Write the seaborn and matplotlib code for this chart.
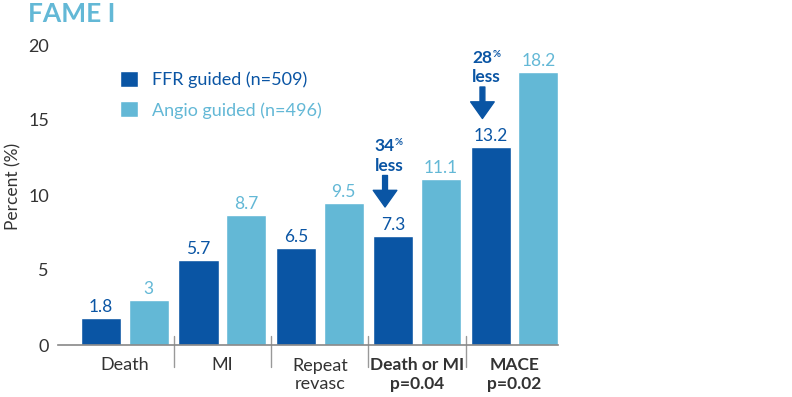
import matplotlib
matplotlib.use('Agg')
import matplotlib.pyplot as plt
import matplotlib.transforms as mtransforms
import pandas as pd
import seaborn as sns

categories = ['Death', 'MI', 'Repeat\nrevasc', 'Death or MI\np=0.04', 'MACE\np=0.02']
ffr = [1.8, 5.7, 6.5, 7.3, 13.2]
angio = [3.0, 8.7, 9.5, 11.1, 18.2]
groups = ['FFR guided (n=509)', 'Angio guided (n=496)']
yticks = [0, 5, 10, 15, 20]
# reductions shown with arrows: (category index, label)
reductions = [(3, '34'), (4, '28')]

DARK = '#0a55a4'
LIGHT = '#63b8d6'
TXT = '#333333'
W = 'normal'

df = pd.DataFrame({
    'outcome': categories * 2,
    'pct': ffr + angio,
    'group': [groups[0]] * len(categories) + [groups[1]] * len(categories),
})

sns.set_theme(style='white')
plt.rcParams['font.family'] = ['Lato', 'DejaVu Sans']

fig = plt.figure(figsize=(7.92, 3.97), dpi=100)
ax = fig.add_axes([58 / 792, 52 / 397, 500 / 792, 300 / 397])

sns.barplot(data=df, x='outcome', y='pct', hue='group', palette=[DARK, LIGHT],
            width=0.98, gap=0.16, saturation=1, ax=ax)

ax.set_xlim(-0.688, 4.446)
ax.set_ylim(0, 20)
ax.set_yticks(yticks)
ax.set_xlabel('')
ax.set_ylabel('Percent (%)', fontsize=12.5, color=TXT, fontweight=W)
ax.yaxis.set_label_coords(-0.074, 0.527)

for s in ['top', 'right', 'left']:
    ax.spines[s].set_visible(False)
ax.spines['bottom'].set_color('#888888')
ax.spines['bottom'].set_linewidth(1.2)

ax.tick_params(axis='y', direction='in', length=10, width=1, color='#999999',
               pad=6.5, labelsize=13, labelcolor=TXT)
ax.tick_params(axis='x', length=0, pad=9, labelsize=13, labelcolor=TXT)
for lab in ax.get_yticklabels():
    lab.set_fontweight(W)
for i, lab in enumerate(ax.get_xticklabels()):
    if i >= 3:
        lab.set_fontweight('bold')
        lab.set_fontsize(12.5)
    else:
        lab.set_fontweight(W)
    lab.set_linespacing(1.2)

# value labels
for cont, vals, col in zip(ax.containers, [ffr, angio], [DARK, LIGHT]):
    ax.bar_label(cont, labels=[f'{v:g}' for v in vals], padding=2, color=col,
                 fontsize=12.5, fontweight=W)

# separators between categories
trans = mtransforms.blended_transform_factory(ax.transData, ax.transAxes)
for i in range(len(categories) - 1):
    ax.plot([i + 0.5, i + 0.5], [0.03, -0.073], transform=trans, color='#999999',
            lw=1, clip_on=False)

# reduction arrows
for idx, pct in reductions:
    tip = ffr[idx] + 1.9
    tail = tip + 2.1
    ax.annotate('', xy=(idx - 0.33, tip), xytext=(idx - 0.33, tail),
                arrowprops=dict(width=3.5, headwidth=17, headlength=12,
                                color=DARK, shrink=0), annotation_clip=False)
    ax.text(idx - 0.435, tail + 0.3, 'less', color=DARK, fontsize=12.5,
            fontweight='bold', ha='left', va='baseline', clip_on=False)
    t = ax.text(idx - 0.435, tail + 1.63, pct, color=DARK, fontsize=12.5,
                fontweight='bold', ha='left', va='baseline', clip_on=False)
    ax.annotate('%', xy=(1.0, 1.0), xycoords=t, ha='left', va='top',
                color=DARK, fontsize=7, fontweight='bold')

leg = ax.legend(loc='upper left', bbox_to_anchor=(120 / 792, 1 - 71 / 397),
                bbox_transform=fig.transFigure, frameon=False, borderpad=0,
                handlelength=1.0, handleheight=1.0, handletextpad=0.75,
                labelspacing=0.72, fontsize=13, labelcolor=[DARK, LIGHT],
                borderaxespad=0)
for t in leg.get_texts():
    t.set_fontweight(W)

fig.text(28 / 792, 1 - 22 / 397, 'FAME I', color=LIGHT, fontsize=19,
         fontweight='bold', ha='left', va='baseline')

fig.savefig('out.png', dpi=100)
